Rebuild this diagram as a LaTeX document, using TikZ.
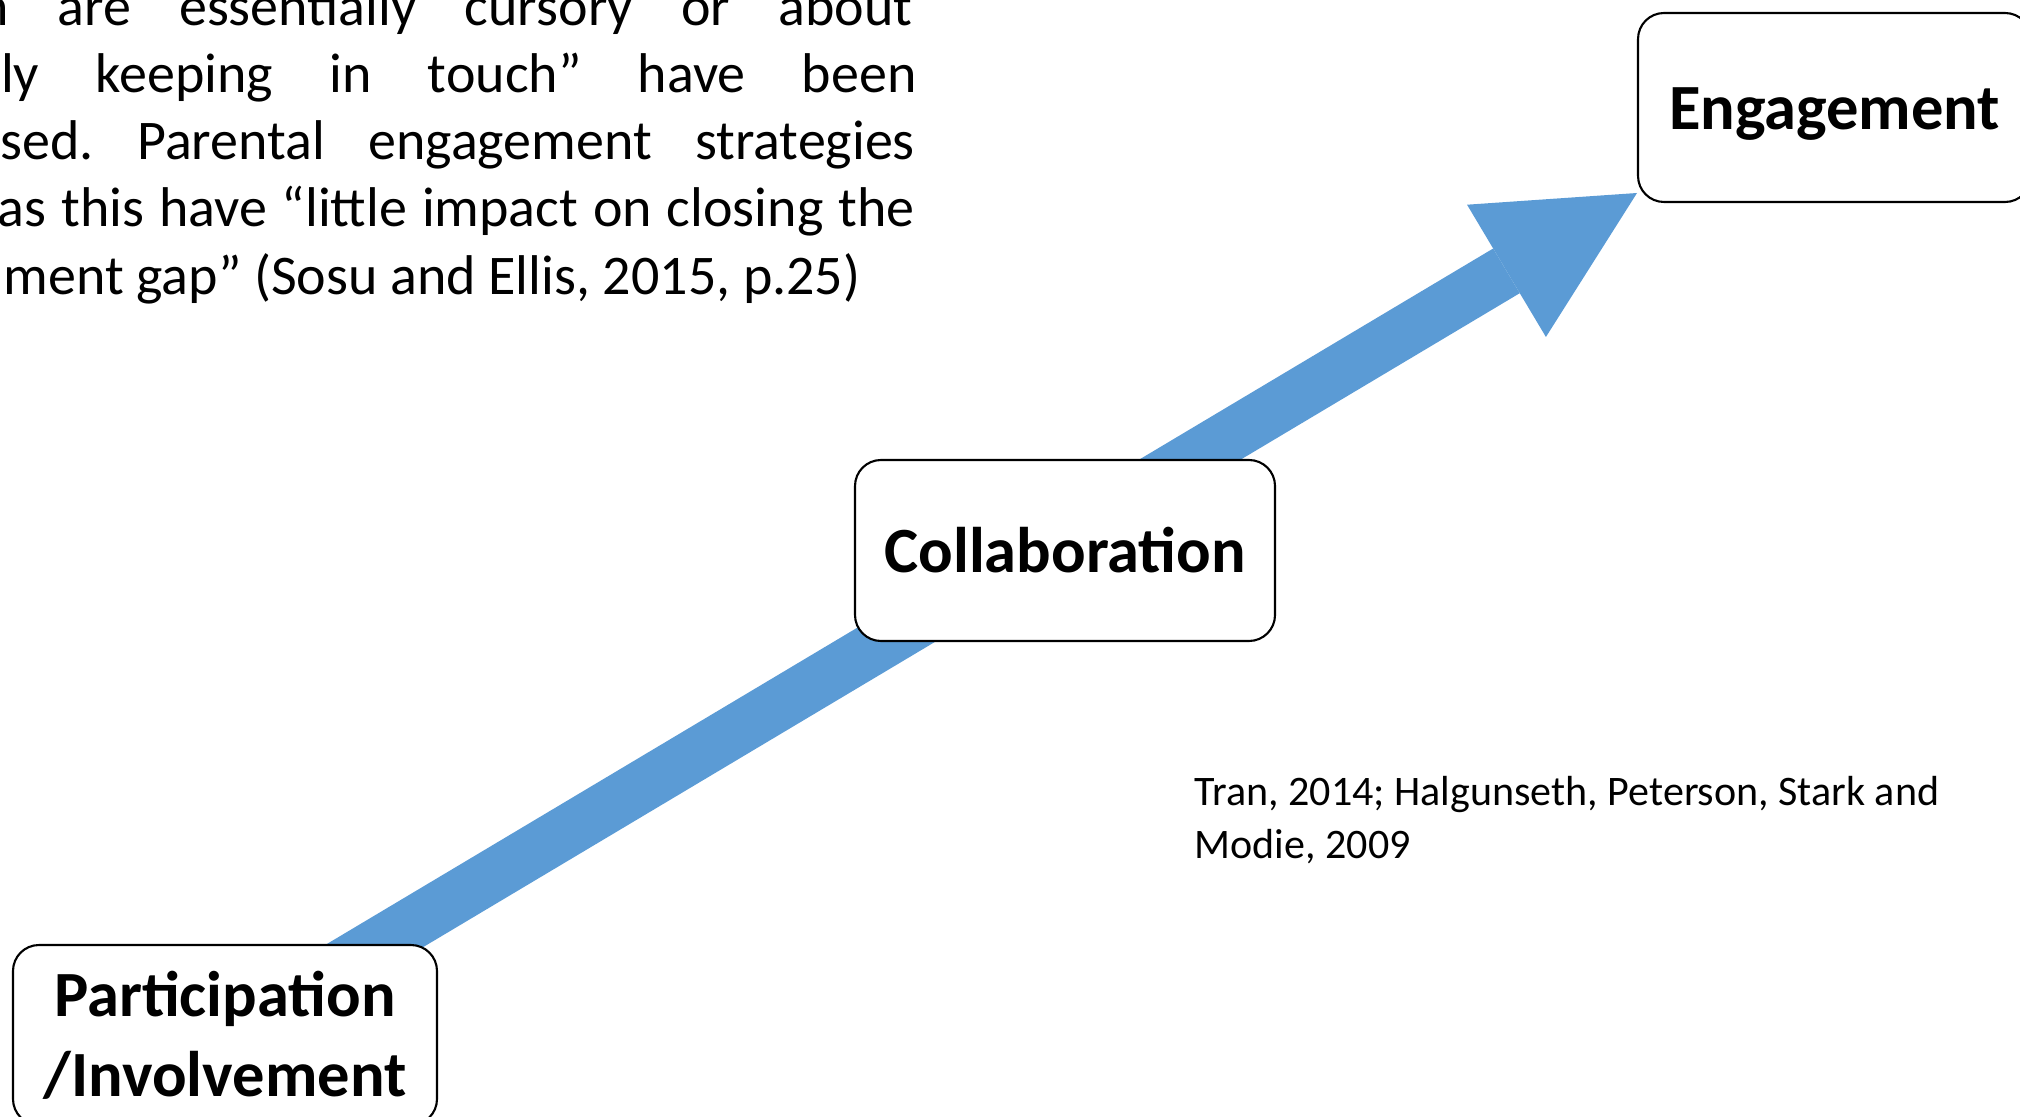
\documentclass[tikz,border=0pt]{standalone}
\usepackage{fontspec}
\setmainfont{Carlito}
\usetikzlibrary{arrows.meta,backgrounds,positioning}

\definecolor{flowblue}{HTML}{5B9BD5}
\frenchspacing

\begin{document}
\begin{tikzpicture}[x=0.1mm,y=-0.1mm,
    stage/.style={rectangle,draw,line width=0.6pt,fill=white,rounded corners=2.6mm,
        inner sep=0pt,align=center,font=\fontsize{18.35pt}{22.8pt}\selectfont\bfseries},
    oneline/.style={text height=17.5pt,text depth=4.9pt},
    para/.style={anchor=base west,inner sep=0pt,font=\fontsize{15.93pt}{18.9pt}\selectfont},
    refs/.style={anchor=base west,inner sep=0pt,align=left,font=\fontsize{11.96pt}{14.8pt}\selectfont},
    flow/.style={line width=5.2mm,flowblue,-{Triangle[length=15.2mm,width=15.4mm,line width=0pt]}}]
    \useasboundingbox (0,0) rectangle (2020,1117);
    \clip (0,0) rectangle (2020,1117);

    % justified quote, running off the left edge
    \foreach \i/\x/\y/\w/\txt in {1/-21/26/93.3mm/{n are essentially cursory or about},
        2/-29/93/94.5mm/{ply keeping in touch” have been},
        3/0/160/91.4mm/{sed. Parental engagement strategies},
        4/-3/227/91.7mm/{as this have “little impact on closing the}} {
        \node[para] (line\i) at (\x,\y) {\makebox[\w][s]{\txt}};
    }
    \node[para] (line5) at (3,295) {ment gap” (Sosu and Ellis, 2015, p.25)};

    % base anchor sits on the last line
    \node[refs] (sources) at (1194,858) {Tran, 2014; Halgunseth, Peterson, Stark and\\Modie, 2009};

    % the three stages
    \node[stage,minimum width=42.4mm,minimum height=18mm] (part) at (225,1035) {Participation\\/Involvement};
    \node[stage,oneline,minimum width=42mm,minimum height=18.1mm] (collab) at (1065,550.5) {Collaboration};
    \node[stage,oneline,minimum width=39.3mm,minimum height=18.9mm] (engage) at (1834.5,107.5) {Engagement};

    \coordinate (tip) at (1637,193);
    \begin{scope}[on background layer]
        \draw[flow] (part.center) -- (tip);
    \end{scope}
\end{tikzpicture}
\end{document}
